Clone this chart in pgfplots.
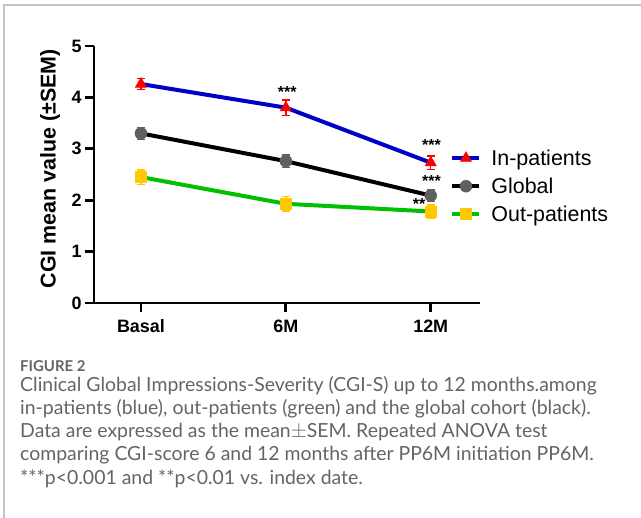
\documentclass[border=0pt]{standalone}
\usepackage{fontspec}
\setmainfont{Liberation Sans}
\newfontfamily\capfont{Lato}
\usepackage{pgfplots}
\usepackage{pgfplotstable}
\pgfplotsset{compat=1.18}
\pgfplotsset{every tick/.append style={line width=2.8bp, black},
    every major tick/.append style={line width=2.8bp, black}}
\definecolor{inblue}{RGB}{0,0,200}
\definecolor{inred}{RGB}{255,0,0}
\definecolor{glgray}{RGB}{96,96,96}
\definecolor{outgreen}{RGB}{0,192,0}
\definecolor{outyellow}{RGB}{255,200,0}
\definecolor{capgray}{RGB}{100,100,100}
\definecolor{framegray}{RGB}{195,195,195}

\pgfplotstableread{
x  y    e
0  4.26 0.11
1  3.80 0.15
2  2.73 0.13
}\inpat
\pgfplotstableread{
x  y    e
0  3.30 0.12
1  2.76 0.12
2  2.09 0.11
}\globdata
\pgfplotstableread{
x  y    e
0  2.45 0.14
1  1.93 0.14
2  1.78 0.13
}\outpat

\begin{document}
\begin{tikzpicture}
\path[use as bounding box] (0,0) rectangle (641bp,518bp);
% figure frame (top and left edges)
\draw[framegray, line width=1.4bp] (4bp,0) -- (4bp,513bp) -- (641bp,513bp);

\begin{axis}[
    at={(94bp,215bp)}, anchor=south west,
    scale only axis,
    width=386bp, height=257bp,
    xmin=-0.324, xmax=2.34,
    ymin=0, ymax=5,
    axis x line*=bottom, axis y line*=left,
    axis line style={line width=2.8bp, -},
    xtick={0,1,2}, xticklabels={Basal,6M,12M},
    ytick={0,1,2,3,4,5},
    tick align=outside,
    major tick length=9bp,
    xtick style={line width=2.8bp, black},
    ytick style={line width=2.8bp, black},
    /pgf/number format/assume math mode=true,
    ticklabel style={font=\fontsize{18}{20}\selectfont\bfseries},
    xticklabel style={yshift=-4bp},
    ylabel={CGI mean value (±SEM)},
    ylabel style={font=\fontsize{21.5}{24}\selectfont\bfseries,
        at={(axis description cs:-0.114,0.523)}, anchor=center},
    clip=false,
    legend style={draw=none, fill=none, inner sep=0pt,
        at={(axis description cs:0.923,0.605)}, anchor=north west,
        font=\fontsize{21.5}{24}\selectfont,
        row sep=7bp,
        /tikz/every odd column/.append style={column sep=8bp}},
    legend cell align=left,
    legend image code/.code={
        \draw[#1, mark repeat=2, mark phase=2] plot coordinates {(0bp,0bp) (13.5bp,0bp) (27bp,0bp)};},
]
\addplot[inblue, line width=4bp,
    mark=triangle*, mark size=6.5bp,
    mark options={inred, fill=inred, line width=0.5bp},
    error bars/.cd, y dir=both, y explicit,
    error bar style={inred, line width=1.4bp},
    error mark options={rotate=90, inred, mark size=4bp, line width=1.4bp}]
    table[x=x, y=y, y error=e] {\inpat};
\addlegendentry{In-patients}
\addplot[black, line width=4bp,
    mark=*, mark size=6bp,
    mark options={glgray, fill=glgray, line width=0.5bp},
    error bars/.cd, y dir=both, y explicit,
    error bar style={glgray, line width=1.4bp},
    error mark options={rotate=90, glgray, mark size=4bp, line width=1.4bp}]
    table[x=x, y=y, y error=e] {\globdata};
\addlegendentry{Global}
\addplot[outgreen, line width=4bp,
    mark=square*, mark size=5.5bp,
    mark options={outyellow, fill=outyellow, line width=0.5bp},
    error bars/.cd, y dir=both, y explicit,
    error bar style={outyellow, line width=1.4bp},
    error mark options={rotate=90, outyellow, mark size=4bp, line width=1.4bp}]
    table[x=x, y=y, y error=e] {\outpat};
\addlegendentry{Out-patients}

% significance marks
\node[font=\fontsize{16}{17}\selectfont\bfseries] at (axis cs:1.01,4.1) {***};
\node[font=\fontsize{16}{17}\selectfont\bfseries] at (axis cs:2.005,3.07) {***};
\node[font=\fontsize{16}{17}\selectfont\bfseries] at (axis cs:2.005,2.38) {***};
\node[font=\fontsize{16}{17}\selectfont\bfseries] at (axis cs:1.92,1.93) {**};
\end{axis}

% caption
\begin{scope}[every node/.style={anchor=base west, inner sep=0pt, text=capgray}]
\node[font=\capfont\fontsize{15}{17}\selectfont\bfseries] at (20bp,146bp) {FIGURE 2};
\node[font=\capfont\fontsize{19.5}{21}\selectfont] at (20bp,126bp) {Clinical Global Impressions-Severity (CGI-S) up to 12 months.among};
\node[font=\capfont\fontsize{19.5}{21}\selectfont] at (20bp,103bp) {in-patients (blue), out-patients (green) and the global cohort (black).};
\node[font=\capfont\fontsize{19.5}{21}\selectfont] at (20bp,80bp) {Data are expressed as the mean$\pm$SEM. Repeated ANOVA test};
\node[font=\capfont\fontsize{19.5}{21}\selectfont] at (20bp,57bp) {comparing CGI-score 6 and 12 months after PP6M initiation PP6M.};
\node[font=\capfont\fontsize{19.5}{21}\selectfont] at (20bp,34bp) {***p<0.001 and **p<0.01 vs. index date.};
\end{scope}
\end{tikzpicture}
\end{document}
